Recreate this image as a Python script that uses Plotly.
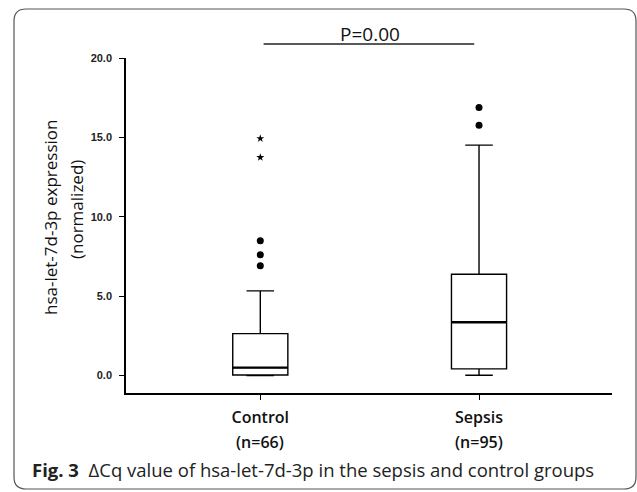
import plotly.graph_objects as go

# ---- data ----
categories = ["Control", "Sepsis"]
group_n = [66, 95]
q1 = [0.03, 0.42]
median = [0.5, 3.36]
q3 = [2.64, 6.38]
lower_fence = [0.0, 0.02]
upper_fence = [5.33, 14.51]
outlier_group = [0, 0, 0, 1, 1]
outlier_values = [8.49, 7.6, 6.92, 16.88, 15.77]
extreme_group = [0, 0]
extreme_values = [14.93, 13.74]
y_ticks = [0, 5, 10, 15, 20]
p_text = "P=0.00"

# ---- geometry ----
W, H = 637, 492
ML, MR, MT, MB = 126, 25, 58, 99
PW, PH = W - ML - MR, H - MT - MB
xr = [-0.614, 1.608]
yr = [-1.1, 20.0]
box_w = 0.252
pos = list(range(len(categories)))


def pxx(p):
    return (p - ML) / PW


def pxy(p):
    return (H - MB - p) / PH


def dx(v):
    return (v - xr[0]) / (xr[1] - xr[0])


fig = go.Figure()

fig.add_trace(go.Box(
    x=pos, q1=q1, median=median, q3=q3,
    lowerfence=lower_fence, upperfence=upper_fence,
    width=box_w, whiskerwidth=0.5, boxpoints=False,
    line=dict(color="black", width=1.4), fillcolor="white",
    hoverinfo="skip", showlegend=False,
))

# thicker median lines
mx, my = [], []
for p, m in zip(pos, median):
    mx += [p - box_w / 2, p + box_w / 2, None]
    my += [m, m, None]
fig.add_trace(go.Scatter(x=mx, y=my, mode="lines",
                         line=dict(color="black", width=2.4),
                         hoverinfo="skip", showlegend=False))

fig.add_trace(go.Scatter(x=outlier_group, y=outlier_values, mode="markers",
                         marker=dict(symbol="circle", size=7, color="black"),
                         cliponaxis=False, hoverinfo="skip", showlegend=False))
fig.add_trace(go.Scatter(x=extreme_group, y=extreme_values, mode="markers",
                         marker=dict(symbol="star", size=6, color="black"),
                         cliponaxis=False, hoverinfo="skip", showlegend=False))

shapes = []
# significance bar
sig_y = pxy(44)
shapes.append(dict(type="line", xref="paper", yref="paper",
                   x0=dx(pos[0] + 0.015), x1=dx(pos[1] - 0.022), y0=sig_y, y1=sig_y,
                   line=dict(color="#222", width=1.3)))

# rounded frame
x0, x1, y0, y1, r = 14, 636, 9, 489, 12
path = (f"M {pxx(x0 + r)},{pxy(y0)} L {pxx(x1 - r)},{pxy(y0)} "
        f"Q {pxx(x1)},{pxy(y0)} {pxx(x1)},{pxy(y0 + r)} "
        f"L {pxx(x1)},{pxy(y1 - r)} Q {pxx(x1)},{pxy(y1)} {pxx(x1 - r)},{pxy(y1)} "
        f"L {pxx(x0 + r)},{pxy(y1)} Q {pxx(x0)},{pxy(y1)} {pxx(x0)},{pxy(y1 - r)} "
        f"L {pxx(x0)},{pxy(y0 + r)} Q {pxx(x0)},{pxy(y0)} {pxx(x0 + r)},{pxy(y0)} Z")
shapes.append(dict(type="path", xref="paper", yref="paper", path=path,
                   line=dict(color="#555", width=1.2), fillcolor="rgba(0,0,0,0)",
                   layer="below"))

annotations = []
annotations.append(dict(text=p_text, xref="paper", yref="paper",
                        x=pxx(370), y=pxy(34), xanchor="center", yanchor="middle",
                        showarrow=False,
                        font=dict(family="Open Sans", size=19, color="#111")))
for p, n in zip(pos, group_n):
    annotations.append(dict(text=f"(n={n})", xref="x", yref="paper",
                            x=p, y=pxy(442), xanchor="center", yanchor="middle",
                            showarrow=False,
                            font=dict(family="Open Sans", size=16, color="#111",
                                      weight=600)))
annotations.append(dict(text="hsa-let-7d-3p expression", xref="paper", yref="paper",
                        x=pxx(50), y=pxy(218), xanchor="center", yanchor="middle",
                        textangle=-90, showarrow=False,
                        font=dict(family="Open Sans", size=17, color="#111")))
annotations.append(dict(text="(normalized)", xref="paper", yref="paper",
                        x=pxx(76), y=pxy(210), xanchor="center", yanchor="middle",
                        textangle=-90, showarrow=False,
                        font=dict(family="Open Sans", size=17, color="#111")))
annotations.append(dict(
    text="<b>Fig. 3</b>\u00a0\u00a0\u0394Cq value of hsa-let-7d-3p in the sepsis and control groups",
    xref="paper", yref="paper", x=pxx(30), y=pxy(469),
    xanchor="left", yanchor="middle", showarrow=False,
    font=dict(family="Open Sans", size=18.5, color="#222")))

fig.update_layout(
    width=W, height=H,
    margin=dict(l=ML, r=MR, t=MT, b=MB),
    paper_bgcolor="white", plot_bgcolor="white",
    shapes=shapes, annotations=annotations,
    xaxis=dict(range=xr, tickvals=pos, ticktext=categories,
               showgrid=False, zeroline=False,
               showline=True, linecolor="black", linewidth=1.5,
               ticks="outside", ticklen=5, tickcolor="black", tickwidth=1.3,
               ticklabelstandoff=4,
               tickfont=dict(family="Open Sans", size=16, color="#111", weight=600)),
    yaxis=dict(range=yr, tickvals=y_ticks, tickformat=".1f",
               showgrid=False, zeroline=False,
               showline=True, linecolor="black", linewidth=1.5,
               ticks="outside", ticklen=5, tickcolor="black", tickwidth=1.3,
               ticklabelstandoff=5,
               tickfont=dict(family="Liberation Sans", size=11, color="#222",
                             weight="bold")),
)

fig.write_html("out.html", config={"displayModeBar": False},
               post_script="document.body.style.margin='0';document.body.style.padding='0';")
